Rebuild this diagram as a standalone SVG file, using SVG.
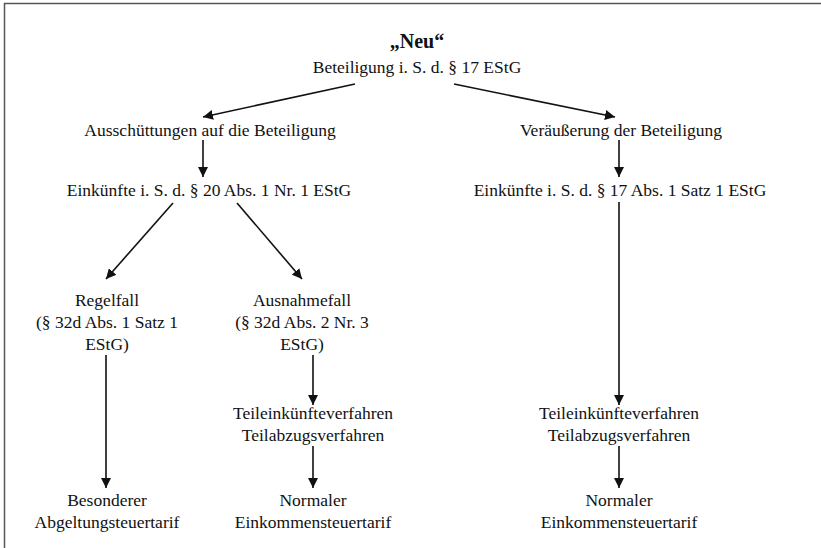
<svg xmlns="http://www.w3.org/2000/svg" width="821" height="548" viewBox="0 0 821 548">
<style>
text{font-family:"Liberation Serif","Times New Roman",serif;font-size:17.5px;fill:#111;text-anchor:middle}
.b{font-weight:bold;font-size:20px}
.c{stroke:#111;stroke-width:1.6;fill:none;marker-end:url(#ah)}
</style>
<defs>
<marker id="ah" viewBox="0 0 10 10" refX="10" refY="5" markerWidth="10" markerHeight="10" markerUnits="userSpaceOnUse" orient="auto">
<path d="M0,0 L10,5 L0,10 z" fill="#111"/>
</marker>
</defs>
<rect width="821" height="548" fill="#fff"/>
<path d="M4.5,548 V3.5 H821" stroke="#555" stroke-width="1.5" fill="none"/>
<g id="n-neu"><text class="b" x="417" y="48">„Neu“</text><text x="417" y="73">Beteiligung i. S. d. § 17 EStG</text></g>
<g id="n-aus"><text x="210" y="136">Ausschüttungen auf die Beteiligung</text></g>
<g id="n-ver"><text x="621" y="136">Veräußerung der Beteiligung</text></g>
<g id="n-e20"><text x="209" y="196">Einkünfte i. S. d. § 20 Abs. 1 Nr. 1 EStG</text></g>
<g id="n-e17"><text x="620" y="196">Einkünfte i. S. d. § 17 Abs. 1 Satz 1 EStG</text></g>
<g id="n-regel"><text x="107" y="306">Regelfall</text><text x="107" y="328">(§ 32d Abs. 1 Satz 1</text><text x="107" y="350">EStG)</text></g>
<g id="n-ausn"><text x="302" y="306">Ausnahmefall</text><text x="302" y="328">(§ 32d Abs. 2 Nr. 3</text><text x="302" y="350">EStG)</text></g>
<g id="n-teil1"><text x="313" y="419">Teileinkünfteverfahren</text><text x="313" y="441">Teilabzugsverfahren</text></g>
<g id="n-teil2"><text x="619" y="419">Teileinkünfteverfahren</text><text x="619" y="441">Teilabzugsverfahren</text></g>
<g id="n-bes"><text x="107" y="506">Besonderer</text><text x="107" y="528">Abgeltungsteuertarif</text></g>
<g id="n-norm1"><text x="313" y="506">Normaler</text><text x="313" y="528">Einkommensteuertarif</text></g>
<g id="n-norm2"><text x="619" y="506">Normaler</text><text x="619" y="528">Einkommensteuertarif</text></g>
<g id="connectors">
<line class="c" x1="355" y1="84" x2="203" y2="117"/>
<line class="c" x1="454" y1="84" x2="615" y2="117"/>
<line class="c" x1="203" y1="140" x2="203" y2="177"/>
<line class="c" x1="619" y1="140" x2="619" y2="177"/>
<line class="c" x1="173" y1="203" x2="106" y2="279"/>
<line class="c" x1="237" y1="203" x2="302" y2="279"/>
<line class="c" x1="106" y1="355" x2="106" y2="488"/>
<line class="c" x1="313" y1="355" x2="313" y2="405"/>
<line class="c" x1="313" y1="446" x2="313" y2="488"/>
<line class="c" x1="619" y1="202" x2="619" y2="405"/>
<line class="c" x1="619" y1="446" x2="619" y2="488"/>
</g>
</svg>
